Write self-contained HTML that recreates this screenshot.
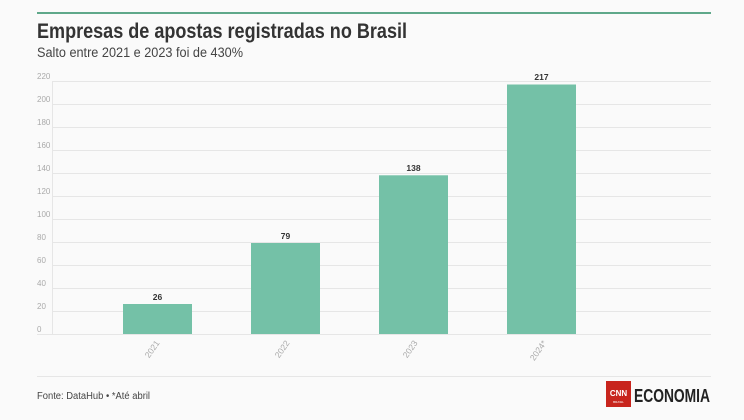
<!DOCTYPE html><html><head><meta charset="utf-8"><style>
body{margin:0;width:744px;height:420px;background:#fafafa;font-family:"Liberation Sans",sans-serif;position:relative;overflow:hidden}
.a{position:absolute}
</style></head><body>
<div class="a" style="left:37px;top:12px;width:674px;height:2px;background:#5fa88a"></div>
<svg class="a" style="left:0;top:0" width="744" height="420">
<text x="37" y="38" font-size="21" font-weight="bold" fill="#333" textLength="370" lengthAdjust="spacingAndGlyphs">Empresas de apostas registradas no Brasil</text>
<text x="37" y="57" font-size="13.5" fill="#444" textLength="206" lengthAdjust="spacingAndGlyphs">Salto entre 2021 e 2023 foi de 430%</text>
<g stroke="#e6e6e6" stroke-width="1">
<line x1="37" x2="711" y1="334.5" y2="334.5"/><line x1="52" x2="711" y1="311.5" y2="311.5"/><line x1="52" x2="711" y1="288.5" y2="288.5"/><line x1="52" x2="711" y1="265.5" y2="265.5"/><line x1="52" x2="711" y1="242.5" y2="242.5"/><line x1="52" x2="711" y1="219.5" y2="219.5"/><line x1="52" x2="711" y1="196.5" y2="196.5"/><line x1="52" x2="711" y1="173.5" y2="173.5"/><line x1="52" x2="711" y1="150.5" y2="150.5"/><line x1="52" x2="711" y1="127.5" y2="127.5"/><line x1="52" x2="711" y1="104.5" y2="104.5"/><line x1="52" x2="711" y1="81.5" y2="81.5"/>
<line x1="52.5" x2="52.5" y1="81" y2="334"/>
<line x1="37" x2="711" y1="376.5" y2="376.5"/>
</g>
<g font-size="8" fill="#aaa">
<text x="37" y="332">0</text><text x="37" y="309">20</text><text x="37" y="286">40</text><text x="37" y="263">60</text><text x="37" y="240">80</text><text x="37" y="217">100</text><text x="37" y="194">120</text><text x="37" y="171">140</text><text x="37" y="148">160</text><text x="37" y="125">180</text><text x="37" y="102">200</text><text x="37" y="79">220</text>
</g>
<g fill="#74c1a7">
<rect x="123" y="304" width="69" height="30"/><rect x="251" y="243" width="69" height="91"/><rect x="379" y="175.3" width="69" height="158.7"/><rect x="507" y="84.5" width="69" height="249.5"/>
</g>
<g font-size="8.5" font-weight="bold" fill="#333" text-anchor="middle">
<text x="157.5" y="300">26</text><text x="285.5" y="239">79</text><text x="413.5" y="171">138</text><text x="541.5" y="80">217</text>
</g>
<g font-size="8.5" fill="#aaa" text-anchor="end">
<text transform="translate(160,343) rotate(-55)">2021</text><text transform="translate(290,343) rotate(-55)">2022</text><text transform="translate(418,343) rotate(-55)">2023</text><text transform="translate(547,343) rotate(-55)">2024*</text>
</g>
<text x="37" y="399" font-size="10" fill="#444" textLength="113" lengthAdjust="spacingAndGlyphs">Fonte: DataHub • *Até abril</text>
<rect x="606" y="381" width="25" height="26" fill="#c8251d"/>
<text x="618.5" y="396" font-size="8" font-weight="bold" fill="#fff" text-anchor="middle">CNN</text>
<text x="618.5" y="403" font-size="3" fill="#fff" text-anchor="middle">BRASIL</text>
<text x="634" y="402" font-size="18" font-weight="bold" fill="#222" textLength="76" lengthAdjust="spacingAndGlyphs">ECONOMIA</text>
</svg>
</body></html>
